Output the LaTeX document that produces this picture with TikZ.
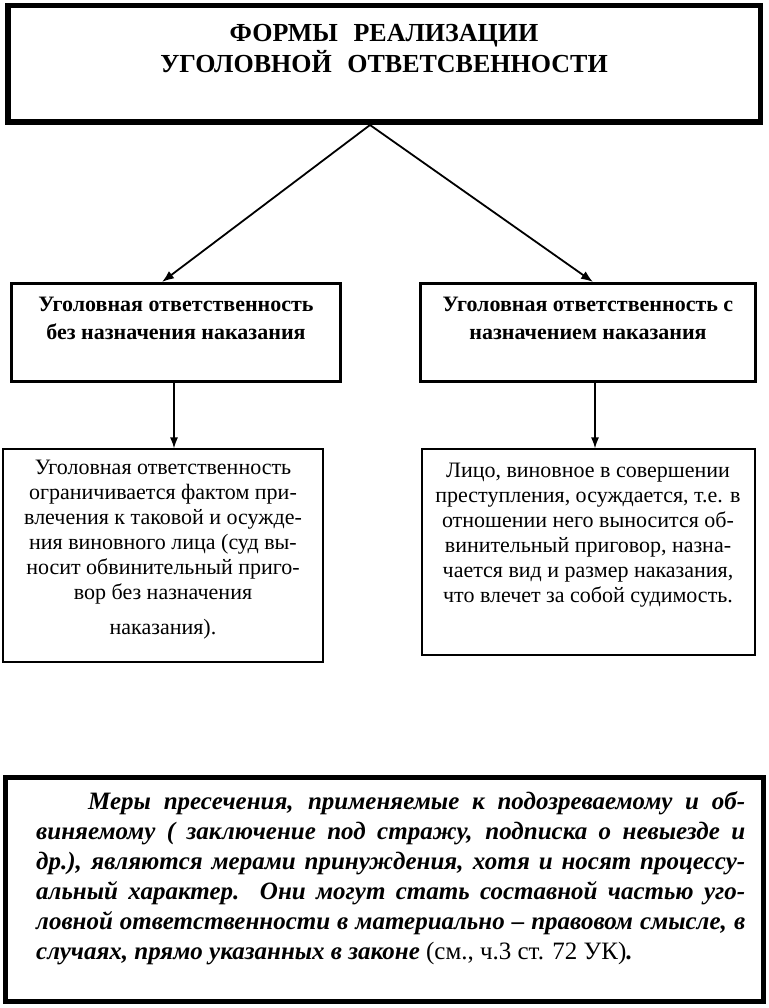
\documentclass[tikz,border=0pt]{standalone}
\usepackage{fontspec}
\setmainfont{Liberation Serif}
\usetikzlibrary{arrows.meta}
\begin{document}
\begin{tikzpicture}[x=1pt,y=-1pt,
  bigframe/.style={draw,line width=5pt,inner sep=0pt},
  midbox/.style={draw,line width=3pt,inner sep=0pt},
  lowbox/.style={draw,line width=1.2pt,inner sep=0pt},
  innerline/.style={draw,line width=1pt},
  arr/.style={line width=1.8pt,-{Latex[length=12pt,width=9pt]}},
  varr/.style={line width=1.4pt,-{Latex[length=11pt,width=8pt]}},
  titletext/.style={inner sep=0pt,align=center,font=\fontsize{26}{31}\selectfont\bfseries},
  midtext/.style={inner sep=0pt,align=center,font=\fontsize{22}{28}\selectfont\bfseries},
  lowtext/.style={inner sep=0pt,align=center,font=\fontsize{22}{25}\selectfont},
  bottext/.style={inner sep=0pt,align=left,font=\fontsize{25}{30}\selectfont\bfseries\itshape}
]
\fill[white] (0,0) rectangle (768,1008);
\useasboundingbox (0,0) rectangle (768,1008);

% top frame
\node[bigframe,minimum width=753pt,minimum height=117pt] (top) at (384,64) {};
\draw[innerline] ([shift={(5pt,-5pt)}]top.north west) rectangle ([shift={(-5pt,5pt)}]top.south east);
\node[titletext] (title) at (384,49) {ФОРМЫ\hspace{0.6em}РЕАЛИЗАЦИИ\\УГОЛОВНОЙ\hspace{0.6em}ОТВЕТСВЕННОСТИ};

% middle boxes
\node[midbox,minimum width=329pt,minimum height=98pt] (lmid) at (176,332.5) {};
\node[midbox,minimum width=335pt,minimum height=98pt] (rmid) at (588,332.5) {};
\node[midtext] (lmidtxt) at (176,318) {Уголовная ответственность\\без назначения наказания};
\node[midtext] (rmidtxt) at (588,318) {Уголовная ответственность с\\назначением наказания};

% arrows from top
\coordinate (apex) at ([xshift=-14pt]top.south);
\draw[arr] (apex) -- ([xshift=-14pt]lmid.north);
\draw[arr] (apex) -- ([xshift=5pt]rmid.north);

% lower boxes
\node[lowbox,minimum width=320pt,minimum height=213pt] (llow) at (163,555.5) {};
\node[lowbox,minimum width=333pt,minimum height=206pt] (rlow) at (588.5,552) {};
\node[lowtext,anchor=north] (llowtxt) at (163,460) {Уголовная ответственность\\ограничивается фактом при-\\влечения к таковой и осужде-\\ния виновного лица (суд вы-\\носит обвинительный приго-\\вор без назначения\\[10pt]наказания).};
\node[lowtext,anchor=north] (rlowtxt) at (588,463) {Лицо, виновное в совершении\\преступления, осуждается, т.е. в\\отношении него выносится об-\\винительный приговор, назна-\\чается вид и размер наказания,\\что влечет за собой судимость.};

\draw[varr] ([xshift=-2pt]lmid.south) -- ([xshift=-2pt]lmid.south |- llow.north);
\draw[varr] ([xshift=7pt]rmid.south) -- ([xshift=7pt]rmid.south |- rlow.north);

% bottom frame
\node[bigframe,line width=4.5pt,minimum width=759pt,minimum height=225pt] (bot) at (384.5,889.5) {};
\draw[innerline] ([shift={(5pt,-5pt)}]bot.north west) rectangle ([shift={(-5pt,5pt)}]bot.south east);
\node[bottext,anchor=north west] (bottxt) at (36,791) {%
\hspace*{52pt}\makebox[657pt][s]{Меры пресечения, применяемые к подозреваемому и об-}\\
\makebox[709pt][s]{виняемому ( заключение под стражу, подписка о невыезде и}\\
\makebox[709pt][s]{др.), являются мерами принуждения, хотя и носят процессу-}\\
\makebox[709pt][s]{альный характер. Они могут стать составной частью уго-}\\
\makebox[709pt][s]{ловной ответственности в материально – правовом смысле, в}\\
случаях, прямо указанных в законе {\upshape\mdseries (см., ч.3 ст. 72 УК)}.};
\end{tikzpicture}
\end{document}
